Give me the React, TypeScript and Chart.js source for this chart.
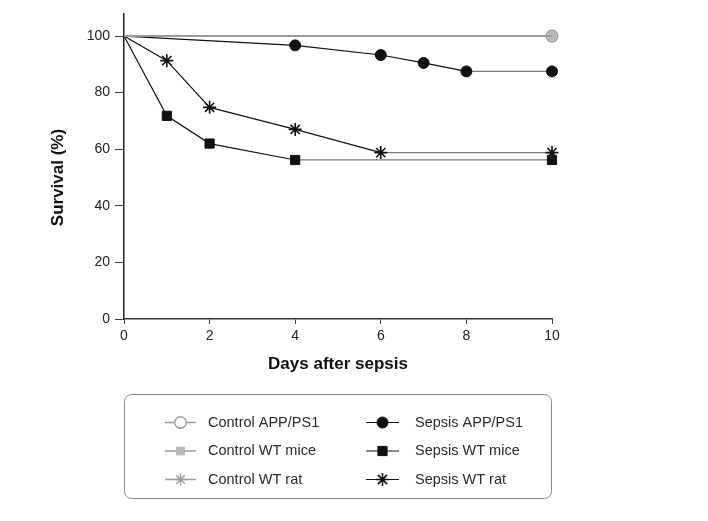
import React, { useEffect, useRef } from 'react';
import { Chart, registerables } from 'chart.js';

Chart.register(...registerables);

const seriesLabels = [
  'Control APP/PS1',
  'Control WT mice',
  'Control WT rat',
  'Sepsis APP/PS1',
  'Sepsis WT mice',
  'Sepsis WT rat',
];
const controlDays = [0, 10];
const controlSurvival = [100, 100];
const sepsisAppDays = [0, 4, 6, 7, 8, 10];
const sepsisAppSurvival = [100, 96.7, 93.3, 90.5, 87.5, 87.5];
const sepsisMiceDays = [0, 1, 2, 4, 10];
const sepsisMiceSurvival = [100, 71.8, 62, 56.2, 56.2];
const sepsisRatDays = [0, 1, 2, 4, 6, 10];
const sepsisRatSurvival = [100, 91.3, 74.8, 67, 58.8, 58.8];
const xTicks = [0, 2, 4, 6, 8, 10];
const yTicks = [0, 20, 40, 60, 80, 100];

const FONT = '"Liberation Sans", Arial, Helvetica, sans-serif';
const GRAY = '#9a9a9a';
const LIGHT = '#b8b8b8';
const DARK = '#111111';

const toPoints = (xs: number[], ys: number[]) => xs.map((x, i) => ({ x, y: ys[i] }));
const radii = (xs: number[], r: number) => xs.map((x) => (x === 0 ? 0 : r));

function drawMarker(
  ctx: CanvasRenderingContext2D,
  style: string,
  x: number,
  y: number,
  r: number,
  fill: string,
  stroke: string,
  lw: number
) {
  ctx.save();
  ctx.lineWidth = lw;
  ctx.strokeStyle = stroke;
  ctx.fillStyle = fill;
  ctx.beginPath();
  if (style === 'circle') {
    ctx.arc(x, y, r, 0, Math.PI * 2);
    ctx.fill();
    ctx.stroke();
  } else if (style === 'rect') {
    const s = r * Math.SQRT1_2;
    ctx.rect(x - s, y - s, 2 * s, 2 * s);
    ctx.fill();
    ctx.stroke();
  } else if (style === 'star') {
    for (let k = 0; k < 4; k++) {
      const a = (k * Math.PI) / 4;
      ctx.moveTo(x - Math.cos(a) * r, y - Math.sin(a) * r);
      ctx.lineTo(x + Math.cos(a) * r, y + Math.sin(a) * r);
    }
    ctx.stroke();
  }
  ctx.restore();
}

const extrasPlugin = {
  id: 'extras',
  afterDraw(chart: any) {
    const ctx: CanvasRenderingContext2D = chart.ctx;
    const area = chart.chartArea;
    const yScale = chart.scales.y;
    // Y axis title, centred on 0..100 range
    ctx.save();
    const yMid = (yScale.getPixelForValue(0) + yScale.getPixelForValue(100)) / 2;
    ctx.translate(58, yMid);
    ctx.rotate(-Math.PI / 2);
    ctx.font = `bold 17px ${FONT}`;
    ctx.fillStyle = DARK;
    ctx.textAlign = 'center';
    ctx.textBaseline = 'middle';
    ctx.fillText('Survival (%)', 0, 0);
    ctx.restore();

    // Legend box
    const left = area.left;
    const right = area.right;
    const top = 394;
    const bottom = 499;
    ctx.save();
    ctx.strokeStyle = '#8a8a8a';
    ctx.lineWidth = 1;
    ctx.beginPath();
    (ctx as any).roundRect(left + 0.5, top + 0.5, right - left - 1, bottom - top - 1, 7);
    ctx.stroke();
    ctx.restore();

    chart.data.datasets.forEach((ds: any, i: number) => {
      const col = i < 3 ? 0 : 1;
      const row = i % 3;
      const y = 422.5 + row * 28.5;
      const x0 = col ? 366 : 165;
      const x1 = col ? 399 : 196;
      const tx = col ? 415 : 208;
      ctx.save();
      ctx.strokeStyle = ds.borderColor;
      ctx.lineWidth = ds.borderWidth;
      ctx.beginPath();
      ctx.moveTo(x0, y);
      ctx.lineTo(x1, y);
      ctx.stroke();
      ctx.restore();
      const r = Array.isArray(ds.pointRadius) ? ds.pointRadius[ds.pointRadius.length - 1] : ds.pointRadius;
      const fill = ds.pointBackgroundColor === 'rgba(0,0,0,0)' ? '#ffffff' : ds.pointBackgroundColor;
      drawMarker(ctx, ds.pointStyle, (x0 + x1) / 2, y, r, fill, ds.pointBorderColor, ds.pointBorderWidth);
      ctx.save();
      ctx.font = `14.5px ${FONT}`;
      ctx.fillStyle = '#2a2a2a';
      ctx.textAlign = 'left';
      ctx.textBaseline = 'middle';
      ctx.fillText(ds.label, tx, y);
      ctx.restore();
    });
  },
};

const flatGray = (ctx: any) => (ctx.p0.parsed.y === ctx.p1.parsed.y ? '#7a7a7a' : undefined);

export default function App() {
  const ref = useRef<HTMLCanvasElement | null>(null);

  useEffect(() => {
    if (!ref.current) return;
    const common = { tension: 0, clip: false as any, fill: false, pointHoverRadius: 0 };
    const chart = new Chart(ref.current, {
      type: 'line',
      data: {
        datasets: [
          {
            ...common,
            label: seriesLabels[0],
            data: toPoints(controlDays, controlSurvival),
            borderColor: GRAY,
            borderWidth: 1.5,
            pointStyle: 'circle',
            pointRadius: radii(controlDays, 5.8),
            pointBackgroundColor: 'rgba(0,0,0,0)',
            pointBorderColor: GRAY,
            pointBorderWidth: 1.4,
          },
          {
            ...common,
            label: seriesLabels[1],
            data: toPoints(controlDays, controlSurvival),
            borderColor: GRAY,
            borderWidth: 1.5,
            pointStyle: 'rect',
            pointRadius: radii(controlDays, 5.5),
            pointBackgroundColor: LIGHT,
            pointBorderColor: LIGHT,
            pointBorderWidth: 1,
          },
          {
            ...common,
            label: seriesLabels[2],
            data: toPoints(controlDays, controlSurvival),
            borderColor: GRAY,
            borderWidth: 1.5,
            pointStyle: 'star',
            pointRadius: radii(controlDays, 6),
            pointBackgroundColor: GRAY,
            pointBorderColor: GRAY,
            pointBorderWidth: 1.3,
          },
          {
            ...common,
            label: seriesLabels[3],
            data: toPoints(sepsisAppDays, sepsisAppSurvival),
            borderColor: DARK,
            borderWidth: 1.2,
            segment: { borderColor: flatGray },
            pointStyle: 'circle',
            pointRadius: radii(sepsisAppDays, 5.5),
            pointBackgroundColor: DARK,
            pointBorderColor: DARK,
            pointBorderWidth: 1,
          },
          {
            ...common,
            label: seriesLabels[4],
            data: toPoints(sepsisMiceDays, sepsisMiceSurvival),
            borderColor: DARK,
            borderWidth: 1.2,
            segment: { borderColor: flatGray },
            pointStyle: 'rect',
            pointRadius: radii(sepsisMiceDays, 6.5),
            pointBackgroundColor: DARK,
            pointBorderColor: DARK,
            pointBorderWidth: 1,
          },
          {
            ...common,
            label: seriesLabels[5],
            data: toPoints(sepsisRatDays, sepsisRatSurvival),
            borderColor: DARK,
            borderWidth: 1.2,
            segment: { borderColor: flatGray },
            pointStyle: 'star',
            pointRadius: radii(sepsisRatDays, 6.5),
            pointBackgroundColor: DARK,
            pointBorderColor: DARK,
            pointBorderWidth: 1.6,
          },
        ] as any,
      },
      options: {
        responsive: false,
        animation: false,
        devicePixelRatio: 1,
        layout: { padding: { top: 13, right: 156, bottom: 142, left: 0 } },
        plugins: { legend: { display: false }, tooltip: { enabled: false } },
        events: [],
        scales: {
          x: {
            type: 'linear',
            min: 0,
            max: 10,
            afterBuildTicks: (s: any) => {
              s.ticks = xTicks.map((v) => ({ value: v }));
            },
            afterFit: (s: any) => {
              s.height = 60;
            },
            ticks: { font: { family: FONT, size: 14 }, color: '#222', padding: 4, maxRotation: 0 },
            grid: { drawOnChartArea: false, drawTicks: true, tickLength: 5, color: '#444', lineWidth: 1 },
            border: { display: true, color: '#333', width: 1.5 },
            title: {
              display: true,
              text: 'Days after sepsis',
              font: { family: FONT, size: 17, weight: 'bold' },
              color: DARK,
              padding: { top: 0, bottom: 4 },
            },
          },
          y: {
            type: 'linear',
            min: 0,
            max: 108,
            afterBuildTicks: (s: any) => {
              s.ticks = yTicks.map((v) => ({ value: v }));
            },
            afterFit: (s: any) => {
              s.width = 124;
            },
            ticks: { font: { family: FONT, size: 14 }, color: '#222', padding: 5 },
            grid: { drawOnChartArea: false, drawTicks: true, tickLength: 9, color: '#444', lineWidth: 1 },
            border: { display: true, color: '#222', width: 1.5 },
            title: { display: false },
          },
        } as any,
      },
      plugins: [extrasPlugin],
    });
    return () => chart.destroy();
  }, []);

  return (
    <div style={{ position: 'absolute', left: 0, top: 0, width: 708, height: 521, background: '#fff' }}>
      <canvas ref={ref} width={708} height={521} />
    </div>
  );
}
